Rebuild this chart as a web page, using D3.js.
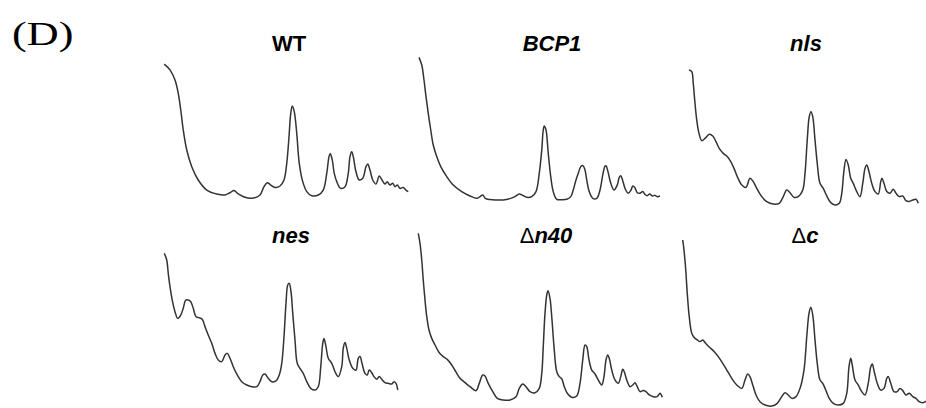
<!DOCTYPE html>
<html>
<head>
    <meta charset="utf-8">
    <script src="https://cdn.jsdelivr.net/npm/d3@7"></script>
    <style>
        * { margin: 0; padding: 0; }
        body { background: #fff; }
        .title { font-family: "Liberation Sans", Arial, sans-serif; font-size: 22px; font-weight: bold; }
        .trace { fill: none; stroke: #333; stroke-width: 1.5; stroke-linejoin: round; }
    </style>
</head>
<body>
    <div id="chart"></div>
    <script>
        // gradient position (0-100) vs absorbance (arbitrary units, 0-100)
        var wtTrace = [[1.7,97.1],[4.0,92.9],[6.0,85.7],[7.3,76.2],[8.3,64.3],[9.3,50.0],[10.7,35.7],[12.7,23.8],[15.3,14.3],[18.7,7.1],[22.7,4.3],[26.0,3.6],[28.0,5.2],[29.6,6.7],[31.3,4.3],[34.0,1.9],[37.3,1.4],[40.0,3.6],[41.6,9.5],[42.9,12.4],[44.3,10.7],[46.0,9.0],[48.0,10.0],[49.6,14.3],[50.7,26.2],[51.6,45.2],[52.3,61.9],[52.9,67.1],[53.7,63.1],[54.7,47.6],[55.7,26.2],[57.1,13.1],[58.7,6.0],[60.7,3.1],[63.3,3.6],[65.3,7.1],[66.7,19.0],[67.6,31.0],[68.1,33.3],[68.9,28.6],[69.7,19.0],[70.7,13.1],[72.3,8.3],[74.0,9.5],[75.3,19.0],[76.0,31.0],[76.7,34.5],[77.3,31.0],[78.4,20.2],[79.7,14.3],[81.1,15.5],[82.4,23.8],[83.1,25.7],[84.0,21.4],[85.1,14.3],[86.4,11.4],[87.7,17.1],[88.8,14.3],[90.0,11.4],[90.9,13.1],[92.0,10.7],[93.1,11.9],[94.0,9.5],[94.9,10.7],[96.0,8.3],[97.3,9.0],[98.4,7.1],[99.3,6.0]];
        var bcp1Trace = [[1.6,101.9],[2.7,96.4],[3.6,85.7],[4.4,73.8],[5.3,61.9],[6.3,50.0],[7.3,39.3],[8.7,31.0],[10.3,23.8],[12.7,16.7],[15.3,10.7],[18.7,6.0],[22.0,2.9],[24.7,1.2],[26.0,2.4],[27.1,3.6],[28.1,1.2],[30.0,0.3],[32.7,0.0],[35.3,0.0],[38.0,1.0],[40.0,2.4],[41.7,4.3],[43.1,3.3],[44.7,1.9],[46.7,2.4],[48.4,6.0],[49.7,19.0],[50.7,35.7],[51.3,50.0],[51.7,52.9],[52.4,50.0],[53.3,33.3],[54.3,16.7],[55.3,6.0],[56.7,0.5],[58.7,0.2],[60.7,0.5],[62.3,2.4],[63.3,7.1],[64.4,14.3],[65.3,19.0],[66.3,23.8],[67.2,24.5],[68.0,21.4],[68.7,14.3],[69.7,6.0],[71.1,1.2],[72.7,1.2],[74.0,7.1],[75.1,17.9],[75.9,23.8],[76.4,24.5],[77.2,20.2],[78.3,11.9],[79.6,7.1],[80.9,10.7],[81.7,16.2],[82.3,17.4],[83.1,13.8],[84.0,8.3],[85.3,4.8],[86.4,7.1],[87.1,10.0],[87.9,9.0],[88.9,5.2],[90.0,4.8],[91.1,6.0],[92.0,4.0],[92.9,3.1],[93.9,4.3],[94.9,2.9],[96.0,3.3],[96.9,2.4],[98.0,2.9]];
        var nlsTrace = [[3.6,92.9],[4.7,91.7],[5.3,83.3],[6.0,69.0],[6.7,57.1],[7.6,47.6],[8.7,42.4],[10.0,44.0],[11.7,46.9],[13.1,45.7],[14.4,41.7],[15.7,36.9],[17.3,33.3],[18.9,31.0],[20.3,27.4],[21.6,22.6],[22.9,16.7],[24.7,10.7],[26.4,9.0],[28.0,15.5],[29.3,13.1],[30.7,8.3],[32.7,2.4],[34.7,-1.2],[37.3,-2.9],[39.7,-2.4],[41.3,2.4],[42.7,7.1],[44.0,5.2],[45.6,1.9],[47.3,2.4],[49.1,7.1],[50.0,19.0],[50.9,42.9],[51.7,59.5],[52.4,63.1],[53.1,59.5],[54.0,42.9],[54.9,26.2],[56.0,11.9],[57.3,8.3],[58.7,2.9],[60.3,-1.9],[62.0,-3.6],[63.7,-2.4],[64.7,4.8],[65.6,21.4],[66.4,29.0],[67.3,25.0],[68.3,15.5],[69.3,11.9],[70.7,6.0],[72.0,2.4],[73.1,11.9],[74.0,22.6],[74.7,25.0],[75.6,20.2],[76.7,11.9],[78.0,6.0],[79.3,4.3],[80.3,13.1],[80.8,15.5],[81.6,11.9],[82.7,6.0],[84.0,4.8],[85.3,7.6],[86.4,4.8],[87.7,2.4],[89.1,2.9],[90.4,-0.5],[91.7,-1.0],[93.1,0.0],[94.4,0.5],[95.3,-2.4]];
        var nesTrace = [[1.7,104.8],[2.7,100.0],[3.3,90.5],[4.0,81.0],[4.9,71.4],[6.0,63.1],[7.1,58.3],[8.3,60.7],[9.3,65.5],[10.3,71.4],[11.3,71.4],[12.3,70.2],[13.3,65.5],[14.4,59.5],[15.7,58.8],[16.9,57.6],[18.0,52.4],[19.3,46.4],[20.7,40.5],[22.0,33.3],[23.3,28.6],[24.7,27.4],[26.0,32.1],[26.9,33.3],[28.0,29.8],[29.3,23.8],[30.9,17.9],[32.7,13.1],[34.7,10.7],[36.7,9.5],[38.7,9.5],[40.0,13.1],[41.1,17.9],[42.0,18.6],[43.3,15.5],[44.7,13.1],[46.4,13.6],[47.7,17.9],[48.7,26.2],[49.6,45.2],[50.4,69.0],[51.1,82.1],[51.7,83.3],[52.4,77.4],[53.1,61.9],[54.0,42.9],[54.9,26.2],[56.0,22.6],[57.3,19.0],[58.7,13.1],[60.3,8.3],[62.0,7.1],[63.3,9.5],[64.3,23.8],[65.1,40.5],[65.6,44.0],[66.4,38.1],[67.3,29.8],[68.7,26.2],[70.0,20.2],[71.3,16.7],[72.7,23.8],[73.3,36.9],[74.0,41.0],[74.7,36.9],[75.7,28.6],[77.1,22.6],[78.4,21.4],[79.3,29.8],[80.0,31.0],[80.8,26.2],[82.0,19.0],[82.9,17.9],[83.7,21.4],[84.7,19.5],[85.6,16.7],[86.7,14.8],[87.7,16.7],[88.7,14.8],[90.0,12.4],[91.3,11.9],[92.7,11.4],[93.6,13.1],[94.4,11.9],[95.1,7.1]];
        var dn40Trace = [[1.3,119.0],[2.0,111.9],[2.7,100.0],[3.3,85.7],[4.0,71.4],[4.7,59.5],[5.6,50.0],[6.7,44.0],[8.0,39.3],[9.7,33.8],[11.3,31.0],[12.9,29.0],[14.7,25.0],[16.3,20.2],[18.0,15.5],[20.0,12.4],[22.0,9.5],[24.4,6.7],[25.7,11.9],[27.1,17.9],[28.0,17.1],[29.3,11.9],[31.1,6.0],[32.9,1.2],[35.3,0.0],[38.0,0.0],[40.4,2.4],[41.7,8.3],[43.1,11.4],[44.4,9.5],[46.0,6.0],[48.0,5.2],[49.7,8.3],[50.7,19.0],[51.3,38.1],[52.0,61.9],[52.7,75.0],[53.2,78.1],[54.0,72.6],[54.8,57.1],[55.6,38.1],[56.7,20.2],[57.7,16.7],[58.7,15.2],[59.7,9.5],[60.9,4.8],[62.7,1.9],[64.7,2.9],[66.0,11.9],[67.1,28.6],[68.0,39.3],[68.7,38.1],[69.6,28.6],[70.7,21.4],[72.0,18.6],[73.3,14.3],[74.7,10.7],[75.6,16.7],[76.4,28.6],[77.1,32.1],[77.7,29.8],[78.7,21.4],[80.0,14.3],[81.3,11.9],[82.3,16.7],[83.1,21.9],[83.7,20.2],[84.7,14.3],[86.0,9.5],[87.1,10.7],[88.0,12.4],[88.9,9.5],[90.0,6.0],[91.3,6.7],[92.4,6.0],[93.7,3.6],[95.3,2.4],[96.9,2.4],[98.0,4.8],[98.9,1.9]];
        var dcTrace = [[1.1,114.3],[1.6,107.1],[2.3,92.9],[2.9,76.2],[3.7,59.5],[4.7,47.6],[5.6,44.8],[6.9,42.9],[8.0,41.7],[9.1,42.9],[10.0,41.0],[10.9,39.3],[12.3,36.9],[13.7,34.5],[15.3,31.0],[17.1,26.2],[18.7,21.4],[20.7,15.5],[22.7,10.7],[24.7,8.3],[26.0,14.3],[27.1,18.6],[28.0,16.7],[29.1,10.7],[30.4,3.6],[32.0,-1.2],[34.0,-3.6],[36.7,-4.3],[38.9,-2.4],[40.7,2.4],[42.0,5.2],[43.3,3.6],[44.7,1.2],[46.4,2.4],[48.0,8.3],[49.6,21.4],[50.7,45.2],[51.6,61.9],[52.3,66.2],[53.1,60.7],[54.0,42.9],[54.9,26.2],[56.0,14.3],[57.1,11.9],[58.3,7.1],[59.7,1.2],[61.3,-2.4],[63.3,-3.6],[65.3,-2.4],[66.7,4.8],[67.6,23.8],[68.3,29.8],[68.9,25.0],[70.0,14.3],[71.3,10.7],[72.7,6.0],[74.0,3.6],[75.3,11.9],[76.3,23.8],[76.9,25.7],[77.7,20.2],[78.9,11.9],[80.3,7.1],[81.6,8.3],[82.7,15.5],[83.3,16.7],[84.3,11.9],[85.6,6.0],[86.9,6.0],[88.0,8.3],[89.1,6.7],[90.4,3.6],[91.7,4.8],[93.1,2.4],[94.4,1.2],[95.7,-1.2],[97.1,-1.9],[98.8,-0.5]];

        var panelTraces = [wtTrace, bcp1Trace, nlsTrace, nesTrace, dn40Trace, dcTrace];
        // title pieces: [text, italic?, delta?]
        var panelTitles = [
            [["WT", false, false]],
            [["BCP1", true, false]],
            [["nls", true, false]],
            [["nes", true, false]],
            [["\u0394", false, true], ["n40", true, false]],
            [["\u0394", false, true], ["c", true, false]]
        ];

        var W = 926, H = 408;
        var colX = [160, 415, 680], colW = 250;
        var rowBottom = [200, 400], rowH = 140;
        var titleX = [289, 552, 806, 291, 546, 805];
        var titleY = [51, 243];

        var svg = d3.select("#chart").append("svg")
            .attr("width", W)
            .attr("height", H);

        svg.append("text")
            .attr("transform", "translate(12,45) scale(1.3,1)")
            .style("font-family", "'Liberation Serif', 'Times New Roman', serif")
            .style("font-size", "34px")
            .text("(D)");

        panelTraces.forEach(function (trace, i) {
            var col = i % 3, row = Math.floor(i / 3);
            var x = d3.scaleLinear().domain([0, 100]).range([colX[col], colX[col] + colW]);
            var y = d3.scaleLinear().domain([0, 100]).range([rowBottom[row], rowBottom[row] - rowH]);

            var line = d3.line()
                .x(d => x(d[0]))
                .y(d => y(d[1]))
                .curve(d3.curveCatmullRom.alpha(0.5));

            svg.append("path")
                .datum(trace)
                .attr("class", "trace")
                .attr("d", line);

            var t = svg.append("text")
                .attr("class", "title")
                .attr("x", titleX[i])
                .attr("y", titleY[row])
                .attr("text-anchor", "middle");
            panelTitles[i].forEach(function (p) {
                t.append("tspan")
                    .style("font-style", p[1] ? "italic" : "normal")
                    .style("font-weight", p[2] ? "normal" : "bold")
                    .text(p[0]);
            });
        });
    </script>
</body>
</html>
